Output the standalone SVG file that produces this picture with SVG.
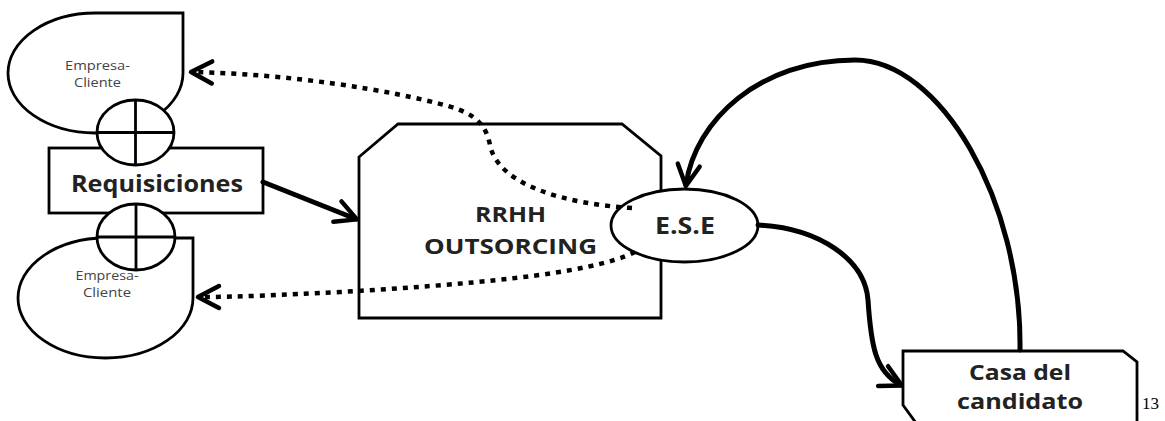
<svg xmlns="http://www.w3.org/2000/svg" width="1165" height="421" viewBox="0 0 1165 421">
<style>
.shape{fill:#fff;stroke:#000;stroke-width:2.8;stroke-linejoin:miter}
.cross{stroke:#000;stroke-width:2.8;fill:none}
.lbl{font-family:"Open Sans","Liberation Sans",sans-serif;font-weight:bold;fill:#222;text-anchor:middle}
.small{font-family:"Open Sans","Liberation Sans",sans-serif;font-size:13px;fill:#444;text-anchor:middle}
.solid{fill:none;stroke:#000;stroke-width:5;stroke-linecap:round}
.dotted{fill:none;stroke:#000;stroke-width:4.5;stroke-dasharray:5 6}
.page{font-family:"Liberation Serif","Times New Roman",serif;font-size:17px;fill:#000}
</style>
<defs>
<marker id="arr" markerUnits="userSpaceOnUse" viewBox="-30 -20 40 40" refX="-1" refY="0" markerWidth="40" markerHeight="40" orient="auto" overflow="visible">
<path d="M-21,-11 L0,0 L-21,11" fill="none" stroke="#000" stroke-width="4.5" stroke-linejoin="round" stroke-linecap="round"/>
</marker>
</defs>
<rect width="1165" height="421" fill="#fff"/>
<g id="empresa-cliente-top">
<path class="shape" d="M95.5,13 L183,13 L183,73 A87.5,60 0 0 1 95.5,133 A87.5,60 0 0 1 8,73 A87.5,60 0 0 1 95.5,13 Z"/>
<text class="small" x="97.5" y="70" textLength="65" lengthAdjust="spacingAndGlyphs">Empresa-</text>
<text class="small" x="97.5" y="87" textLength="47" lengthAdjust="spacingAndGlyphs">Cliente</text>
</g>
<g id="empresa-cliente-bottom">
<path class="shape" d="M105.5,238 L193,238 L193,298 A87.5,60 0 0 1 105.5,358 A87.5,60 0 0 1 18,298 A87.5,60 0 0 1 105.5,238 Z"/>
<text class="small" x="107" y="279.5" textLength="63" lengthAdjust="spacingAndGlyphs">Empresa-</text>
<text class="small" x="107" y="296.5" textLength="48" lengthAdjust="spacingAndGlyphs">Cliente</text>
</g>
<g id="requisiciones">
<rect class="shape" x="49" y="148" width="214" height="65"/>
<text class="lbl" x="157" y="192" font-size="22.5" textLength="172" lengthAdjust="spacingAndGlyphs">Requisiciones</text>
</g>
<g id="sum-top">
<ellipse class="shape" cx="135.5" cy="132.5" rx="38.5" ry="32.5"/>
<path class="cross" d="M97,132.5 H174 M135.5,100 V165"/>
</g>
<g id="sum-bottom">
<ellipse class="shape" cx="136" cy="237" rx="39" ry="33"/>
<path class="cross" d="M97,237 H175 M136,204 V270"/>
</g>
<g id="rrhh-outsorcing">
<path class="shape" d="M359,157 L398,124 L622,124 L661,156 L661,318 L359,318 Z"/>
<text class="lbl" x="510.5" y="222" font-size="21" textLength="71" lengthAdjust="spacingAndGlyphs">RRHH</text>
<text class="lbl" x="510.5" y="254" font-size="21" textLength="173" lengthAdjust="spacingAndGlyphs">OUTSORCING</text>
</g>
<g id="ese">
<ellipse class="shape" cx="684.5" cy="225.5" rx="73.5" ry="36.5"/>
<text class="lbl" x="685" y="234" font-size="22.5" textLength="60" lengthAdjust="spacingAndGlyphs">E.S.E</text>
</g>
<g id="casa-del-candidato">
<path class="shape" d="M903,351 L1123,351 L1137,362 L1137,445 L932,445 L903,405 Z"/>
<text class="lbl" x="1020" y="380" font-size="20.5" textLength="102" lengthAdjust="spacingAndGlyphs">Casa del</text>
<text class="lbl" x="1020" y="409" font-size="20.5" textLength="126" lengthAdjust="spacingAndGlyphs">candidato</text>
</g>
<g id="connectors">
<path class="solid" d="M263,182 L356,219" marker-end="url(#arr)"/>
<path class="solid" d="M1020,350 C1022,200 940,60 855,60 C760,60 695,120 686,185" marker-end="url(#arr)"/>
<path class="solid" d="M758,225 C820,228 865,260 868,300 C871,345 875,372 901,385" marker-end="url(#arr)"/>
<path class="dotted" d="M632,208 C565,204 498,185 490,145 C486,125 476,114 448,106 C390,90 290,74 192,72" marker-end="url(#arr)"/>
<path class="dotted" d="M635,252 C590,275 460,285 340,292 C280,295 240,297 199,297" marker-end="url(#arr)"/>
</g>
<text class="page" x="1142" y="409">13</text>
</svg>
